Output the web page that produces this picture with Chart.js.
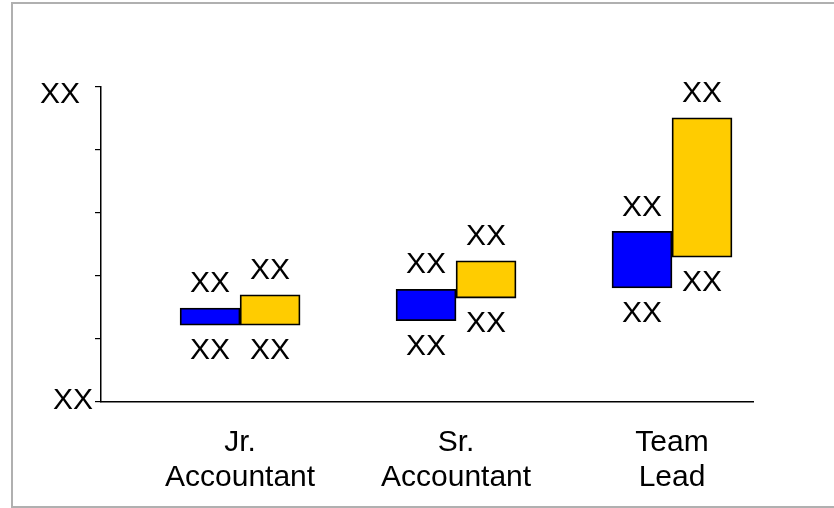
<!DOCTYPE html>
<html>
<head>
<meta charset="utf-8">
<script src="https://cdn.jsdelivr.net/npm/chart.js@4/dist/chart.umd.min.js"></script>
<style>
    html, body { margin: 0; padding: 0; background: #fff; overflow: hidden; }
    #frame {
        position: absolute; left: 11px; top: 2px; width: 840px; height: 506px;
        border: 2px solid #b0b0b0; box-sizing: border-box;
    }
    #wrap { position: absolute; left: 0; top: 0; width: 834px; height: 508px; }
</style>
</head>
<body>
<div id="frame"></div>
<div id="wrap"><canvas id="payChart" width="834" height="508"></canvas></div>
<script>
    // Categories and salary ranges (low, high) per role
    const roles = [['Jr.', 'Accountant'], ['Sr.', 'Accountant'], ['Team', 'Lead']];
    const rolePos = [0, 1, 2];
    const currentLow = [1.22, 1.29, 1.81];
    const currentHigh = [1.49, 1.79, 2.71];
    const marketLow = [1.22, 1.65, 2.30];
    const marketHigh = [1.70, 2.24, 4.51];
    const yTickLabels = { 0: 'XX', 5: 'XX' };
    const barLabel = 'XX';

    const FONT = '"Liberation Sans", Arial, sans-serif';
    const FONT_SIZE = 30;

    function toPoints(lows, highs) {
        return rolePos.map((x, i) => ({ x: x, y: [lows[i], highs[i]] }));
    }

    // "XX" above the top and below the bottom of every bar
    const rangeLabels = {
        id: 'rangeLabels',
        afterDatasetsDraw(chart) {
            const ctx = chart.ctx;
            ctx.save();
            ctx.font = FONT_SIZE + 'px ' + FONT;
            ctx.fillStyle = '#000';
            ctx.textAlign = 'center';
            ctx.textBaseline = 'middle';
            chart.data.datasets.forEach((ds, di) => {
                chart.getDatasetMeta(di).data.forEach(bar => {
                    const top = Math.min(bar.y, bar.base);
                    const bottom = Math.max(bar.y, bar.base);
                    ctx.fillText(barLabel, bar.x, top - 24);
                    ctx.fillText(barLabel, bar.x, bottom + 26);
                });
            });
            ctx.restore();
        }
    };

    // end labels of the value axis
    const axisEnds = {
        id: 'axisEnds',
        afterDraw(chart) {
            const y = chart.scales.y;
            const ctx = chart.ctx;
            ctx.save();
            ctx.font = FONT_SIZE + 'px ' + FONT;
            ctx.fillStyle = '#000';
            ctx.textAlign = 'right';
            ctx.textBaseline = 'middle';
            ctx.fillText(yTickLabels[5], y.right - 21, y.getPixelForValue(5) + 8);
            ctx.fillText(yTickLabels[0], y.right - 8, y.getPixelForValue(0) - 1);
            ctx.restore();
        }
    };

    new Chart(document.getElementById('payChart'), {
        type: 'bar',
        data: {
            datasets: [{
                label: 'Current',
                data: toPoints(currentLow, currentHigh),
                backgroundColor: '#0000ff',
                borderColor: '#000',
                borderWidth: 1.8,
                borderSkipped: false
            }, {
                label: 'Market',
                data: toPoints(marketLow, marketHigh),
                backgroundColor: '#ffcc00',
                borderColor: '#000',
                borderWidth: 1.8,
                borderSkipped: false
            }]
        },
        options: {
            responsive: false,
            animation: false,
            barThickness: 60,
            layout: { padding: { left: 0, top: 87, right: 81, bottom: 0 } },
            plugins: { legend: { display: false }, tooltip: { enabled: false } },
            scales: {
                x: {
                    type: 'linear',
                    offset: false,
                    min: -0.644,
                    max: 2.375,
                    afterBuildTicks: s => { s.ticks = rolePos.map(v => ({ value: v })); },
                    afterFit: s => { s.height = 106; },
                    grid: { display: false, drawTicks: false, offset: false },
                    border: { display: true, color: '#000', width: 1.5 },
                    ticks: {
                        autoSkip: false,
                        maxRotation: 0,
                        padding: 23,
                        color: '#000',
                        font: { family: FONT, size: FONT_SIZE, lineHeight: 35 / FONT_SIZE },
                        callback: v => roles[v] || ''
                    }
                },
                y: {
                    min: 0,
                    max: 5,
                    afterFit: s => { s.width = 101; },
                    ticks: { stepSize: 1, display: false },
                    grid: { drawOnChartArea: false, drawTicks: true, tickLength: 6, color: '#000', lineWidth: 1.2 },
                    border: { display: true, color: '#000', width: 1.5 }
                }
            }
        },
        plugins: [rangeLabels, axisEnds]
    });
</script>
</body>
</html>
